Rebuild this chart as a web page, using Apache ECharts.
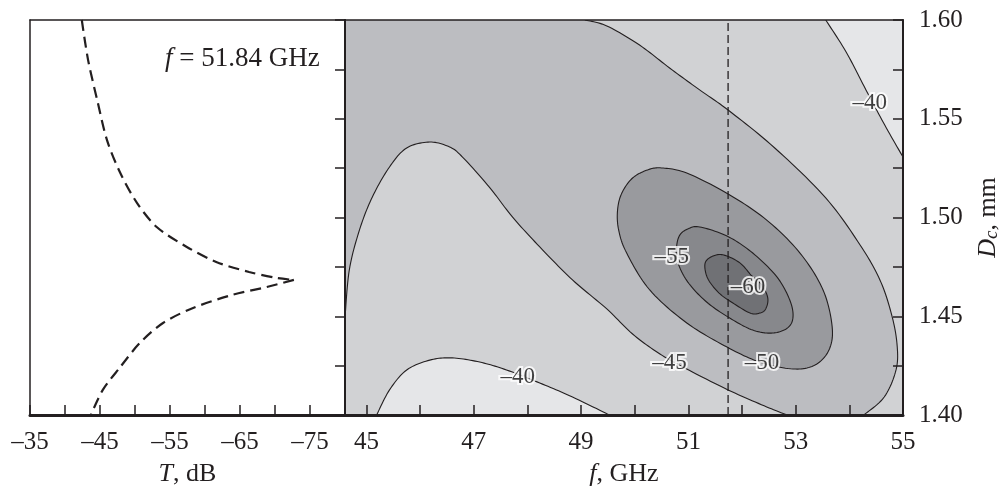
<!DOCTYPE html>
<html>
<head>
<meta charset="utf-8">
<script src="https://cdn.jsdelivr.net/npm/echarts@6.0.0/dist/echarts.min.js"></script>
<style>
  html, body { margin: 0; padding: 0; background: #fff; }
  #chart { width: 1005px; height: 487px; }
</style>
</head>
<body>
<div id="chart"></div>
<script>
// ---- left panel: T(Dc) at f = 51.84 GHz ----
const tDb = [-42.4, -43.3, -44.6, -46.0, -47.9, -50.3, -53.1, -57.4, -61.6, -66.3, -70.2, -72.7,
             -68.8, -63.9, -58.3, -54.0, -50.7, -47.9, -45.4, -43.7];
const dcT = [1.600, 1.5797, 1.5595, 1.5392, 1.5225, 1.5073, 1.4952, 1.4851, 1.4775, 1.4724, 1.4694, 1.4684,
             1.4648, 1.4608, 1.4542, 1.4466, 1.4365, 1.4243, 1.4127, 1.400];
const tipIndex = 11;
const tTickValues = [-35, -40, -45, -50, -55, -60, -65, -70, -75, -80];
const tLabelValues = [-35, -45, -55, -65, -75];

// ---- right panel: contours of T(f, Dc) ----
const fCut = 51.74;
const fTickValues = [45, 46, 47, 48, 49, 50, 51, 52, 53, 54, 55];
const fLabelValues = [45, 47, 49, 51, 53, 55];
const dTickValues = [1.4, 1.425, 1.45, 1.475, 1.5, 1.525, 1.55, 1.575, 1.6];
const dLabelValues = [1.40, 1.45, 1.50, 1.55, 1.60];

// -40 dB (two open pieces)
const c40BotF = [45.19, 45.43, 45.75, 46.18, 46.60, 47.11, 47.61, 48.23, 48.84, 49.53];
const c40BotD = [1.400, 1.4127, 1.4228, 1.4278, 1.4289, 1.4268, 1.4228, 1.4162, 1.4091, 1.400];
const c40TopF = [53.56, 53.94, 54.31, 54.66, 55.00];
const c40TopD = [1.600, 1.5838, 1.5646, 1.5468, 1.5306];
// -45 dB (two open pieces)
const c45UpF = [49.07, 49.48, 50.09, 50.65, 51.21, 51.74, 52.61, 53.56, 54.20, 54.57, 54.79, 54.89, 54.87, 54.65, 54.27];
const c45UpD = [1.600, 1.5970, 1.5873, 1.5757, 1.5646, 1.5544, 1.5352, 1.5099, 1.4861, 1.4684, 1.4506, 1.4354, 1.4228, 1.4091, 1.400];
const c45LoF = [44.6, 44.68, 44.87, 45.11, 45.43, 45.75, 46.18, 46.55, 46.79, 47.29, 47.72, 48.23, 48.84, 49.48, 49.96, 50.47, 50.97, 51.74, 52.46, 52.84];
const c45LoD = [1.4491, 1.4734, 1.4937, 1.5104, 1.5256, 1.5352, 1.5382, 1.5357, 1.5306, 1.5154, 1.5003, 1.4851, 1.4684, 1.4537, 1.4410, 1.4309, 1.4233, 1.4127, 1.4041, 1.400];
// closed loops
const c50F = [49.68, 49.76, 49.96, 50.24, 50.50, 50.97, 51.74, 52.46, 53.08, 53.51, 53.68, 53.62, 53.36, 52.95, 52.33, 51.72, 50.97, 50.28, 49.85, 49.70];
const c50D = [1.5038, 1.5124, 1.5200, 1.5241, 1.5251, 1.5225, 1.5119, 1.4987, 1.4820, 1.4633, 1.4446, 1.4329, 1.4253, 1.4233, 1.4268, 1.4344, 1.4466, 1.4633, 1.4820, 1.4937];
const c55F = [50.78, 50.84, 50.99, 51.21, 51.72, 52.20, 52.65, 52.89, 52.95, 52.85, 52.57, 52.20, 51.77, 51.34, 50.99, 50.80];
const c55D = [1.4851, 1.4911, 1.4942, 1.4952, 1.4906, 1.4820, 1.4699, 1.4582, 1.4496, 1.4441, 1.4415, 1.4430, 1.4491, 1.4572, 1.4673, 1.4775];
const c60F = [51.32, 51.46, 51.66, 51.96, 52.18, 52.37, 52.48, 52.44, 52.33, 52.15, 51.83, 51.59, 51.40, 51.32];
const c60D = [1.4775, 1.4805, 1.4810, 1.4770, 1.4705, 1.4658, 1.4592, 1.4537, 1.4516, 1.4516, 1.4567, 1.4613, 1.4673, 1.4724];

// contour labels
const lblText = ['\u201340', '\u201340', '\u201345', '\u201350', '\u201355', '\u201360'];
const lblF = [47.82, 54.38, 50.65, 52.37, 50.69, 52.11];
const lblD = [1.4192, 1.558, 1.4263, 1.4263, 1.480, 1.4648];

const FONT = "'Liberation Serif', 'Times New Roman', serif";
const INK = '#231f20';
const SHADE = { above40: '#e5e6e8', b40_45: '#d1d2d4', b45_50: '#bcbdc1', b50_55: '#999a9e', b55_60: '#87888c', below60: '#707175' };

const zip = (a, b) => a.map((v, i) => [v, b[i]]);

// Catmull-Rom through pixel points (drawing only)
function spline(pts, closed) {
  const n = pts.length, out = [];
  const get = i => closed ? pts[(i + n) % n] : pts[Math.max(0, Math.min(n - 1, i))];
  const segs = closed ? n : n - 1;
  for (let i = 0; i < segs; i++) {
    const p0 = get(i - 1), p1 = get(i), p2 = get(i + 1), p3 = get(i + 2);
    for (let k = 0; k < 12; k++) {
      const t = k / 12, t2 = t * t, t3 = t2 * t;
      out.push([0, 1].map(j => 0.5 * (2 * p1[j] + (p2[j] - p0[j]) * t +
        (2 * p0[j] - 5 * p1[j] + 4 * p2[j] - p3[j]) * t2 +
        (3 * p1[j] - p0[j] - 3 * p2[j] + p3[j]) * t3)));
    }
  }
  if (!closed) out.push(pts[n - 1]);
  return out;
}

function renderContours(params, api) {
  const px = (F, D) => zip(F, D).map(p => api.coord(p));
  const up45 = spline(px(c45UpF, c45UpD), false);
  const lo45 = spline(px(c45LoF, c45LoD), false);
  const bot40 = spline(px(c40BotF, c40BotD), false);
  const top40 = spline(px(c40TopF, c40TopD), false);
  const e50 = spline(px(c50F, c50D), true);
  const e55 = spline(px(c55F, c55D), true);
  const e60 = spline(px(c60F, c60D), true);
  const tl = api.coord([44.6, 1.6]), tr = api.coord([55, 1.6]);
  const br = api.coord([55, 1.4]), bl = api.coord([44.6, 1.4]);
  const line = { stroke: INK, lineWidth: 1.1, fill: 'none' };
  const poly = (points, fill) => ({ type: 'polygon', shape: { points }, style: { fill } });
  const pl = points => ({ type: 'polyline', shape: { points }, style: line });
  const loop = (points, fill) => ({ type: 'polygon', shape: { points }, style: { fill, stroke: INK, lineWidth: 1.1 } });
  return {
    type: 'group',
    children: [
      poly([tl, tr, br, bl], SHADE.b40_45),
      poly([tl].concat(up45, lo45.slice().reverse()), SHADE.b45_50),
      poly(bot40, SHADE.above40),
      poly(top40.concat([tr]), SHADE.above40),
      loop(e50, SHADE.b50_55),
      loop(e55, SHADE.b55_60),
      loop(e60, SHADE.below60),
      pl(up45), pl(lo45), pl(bot40), pl(top40)
    ]
  };
}

const txt = { fontFamily: FONT, fontSize: 25, color: INK };
const nameStyle = {
  fontFamily: FONT, fontSize: 26, color: INK,
  rich: {
    i: { fontFamily: FONT, fontSize: 26, fontStyle: 'italic', color: INK, lineHeight: 26 },
    s: { fontFamily: FONT, fontSize: 19, fontStyle: 'italic', color: INK, lineHeight: 12, verticalAlign: 'bottom' },
    r: { fontFamily: FONT, fontSize: 26, color: INK, lineHeight: 26 }
  }
};
const dash = v => String(v).replace('-', '\u2013');
const frame = (gridIndex, position, width, extra) => Object.assign({
  gridIndex, type: 'value', position, z: 10,
  axisLine: { show: true, onZero: false, lineStyle: { color: INK, width } },
  axisTick: { show: false }, axisLabel: { show: false }, splitLine: { show: false }
}, extra);

const option = {
  animation: false,
  backgroundColor: '#fff',
  title: {
    text: '{i|f} = 51.84 GHz', left: 160, top: 40,
    textStyle: { fontFamily: FONT, fontSize: 27, fontWeight: 'normal', color: INK,
      rich: { i: { fontFamily: FONT, fontSize: 27, fontStyle: 'italic', color: INK } } }
  },
  grid: [
    { left: 30, top: 20, width: 315, height: 395, containLabel: false, outerBoundsMode: 'none' },
    { left: 345, top: 20, width: 558, height: 395, containLabel: false, outerBoundsMode: 'none' }
  ],
  xAxis: [
    frame(0, 'bottom', 3, {
      min: -80, max: -35, inverse: true,
      axisTick: { show: true, inside: true, length: 10, customValues: tTickValues, lineStyle: { color: INK, width: 1.5 } },
      axisLabel: { show: true, customValues: tLabelValues, formatter: dash, margin: 15, ...txt },
      name: '{i|T}{r|, dB}', nameLocation: 'middle', nameGap: 46, nameTextStyle: nameStyle
    }),
    frame(0, 'top', 1.5, { min: -80, max: -35, inverse: true }),
    frame(1, 'bottom', 3, {
      min: 44.6, max: 55,
      axisTick: { show: true, inside: true, length: 10, customValues: fTickValues, lineStyle: { color: INK, width: 1.5 } },
      axisLabel: { show: true, customValues: fLabelValues, margin: 15, ...txt },
      name: '{i|f}{r|, GHz}', nameLocation: 'middle', nameGap: 46, nameTextStyle: nameStyle
    }),
    frame(1, 'top', 1.5, { min: 44.6, max: 55 })
  ],
  yAxis: [
    frame(0, 'right', 2, {
      min: 1.4, max: 1.6,
      axisTick: { show: true, inside: true, length: 10, customValues: dTickValues, lineStyle: { color: INK, width: 1.5 } }
    }),
    frame(0, 'left', 1.5, { min: 1.4, max: 1.6 }),
    frame(1, 'right', 2, {
      min: 1.4, max: 1.6,
      axisTick: { show: true, inside: true, length: 10, customValues: dTickValues, lineStyle: { color: INK, width: 1.5 } },
      axisLabel: { show: true, customValues: dLabelValues, formatter: v => v.toFixed(2), margin: 16, ...txt },
      name: '{i|D}{s|c}{r|, mm}', nameLocation: 'middle', nameRotate: 90, nameGap: 72, nameTextStyle: nameStyle
    }),
    frame(1, 'left', 2, { min: 1.4, max: 1.6 })
  ],
  series: [
    {
      type: 'line', xAxisIndex: 0, yAxisIndex: 0, symbol: 'none', smooth: 0.3, z: 3,
      data: zip(tDb, dcT).slice(0, tipIndex + 1),
      lineStyle: { color: INK, width: 2.2, type: [11, 6] }
    },
    {
      type: 'line', xAxisIndex: 0, yAxisIndex: 0, symbol: 'none', smooth: 0.3, z: 3,
      data: zip(tDb, dcT).slice(tipIndex),
      lineStyle: { color: INK, width: 2.2, type: [11, 6] }
    },
    {
      type: 'custom', xAxisIndex: 2, yAxisIndex: 2, coordinateSystem: 'cartesian2d',
      clip: true, silent: true, z: 1,
      data: [[44.6, 1.4]],
      renderItem: renderContours
    },
    {
      type: 'line', xAxisIndex: 2, yAxisIndex: 2, symbol: 'none', z: 4,
      data: [[fCut, 1.4], [fCut, 1.6]],
      lineStyle: { color: INK, width: 1.3, type: [8, 4] }
    },
    {
      type: 'scatter', xAxisIndex: 2, yAxisIndex: 2, symbolSize: 1, z: 5,
      itemStyle: { color: 'rgba(0,0,0,0)' },
      data: lblText.map((t, i) => ({ name: t, value: [lblF[i], lblD[i]] })),
      label: {
        show: true, position: 'inside', formatter: '{b}',
        fontFamily: FONT, fontSize: 23, color: '#111',
        textBorderColor: '#fff', textBorderWidth: 4
      }
    }
  ]
};

const chart = echarts.init(document.getElementById('chart'));
chart.setOption(option);
</script>
</body>
</html>
